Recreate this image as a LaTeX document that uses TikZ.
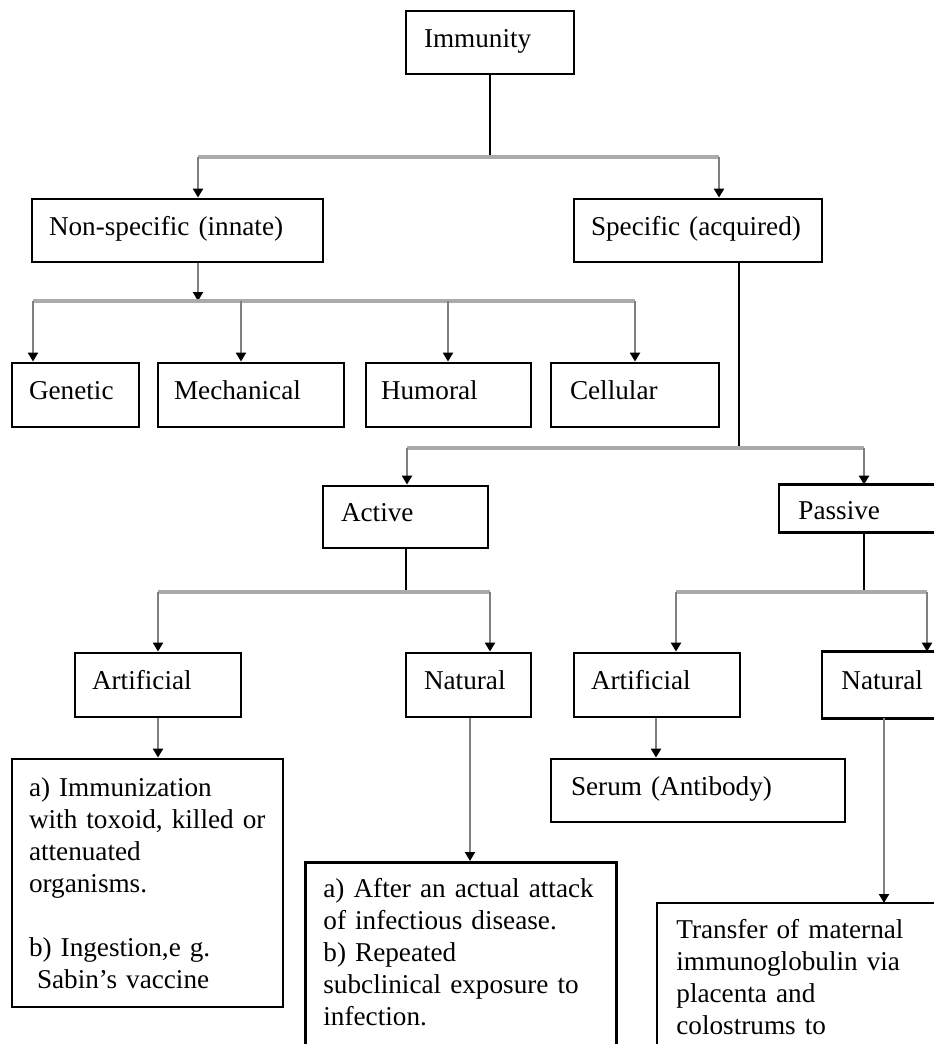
\documentclass[tikz,border=0pt]{standalone}
\usepackage{fontspec}
\setmainfont{Liberation Serif}
\usetikzlibrary{arrows.meta}
\definecolor{bargray}{HTML}{ABABAB}
\definecolor{shaft}{HTML}{808080}
\newcommand\fs{\fontsize{13.6pt}{16pt}\selectfont}
\newcommand\myl[1]{\mbox{#1}}
\begin{document}
\begin{tikzpicture}[x=0.5pt,y=-0.5pt,
 box/.style={draw=black, line width=1.4pt, rectangle, inner sep=0pt, align=left, font=\fs},
 openbox/.style={box, draw=none},
 boxline/.style={draw=black, line width=1.4pt, line join=miter},
 one/.style={text height=9pt, text depth=4.5pt},
 stem/.style={draw=black, line width=1.4pt},
 bar/.style={draw=bargray, line width=2pt},
 arr/.style={draw=shaft, line width=1.1pt, -{Triangle[length=4.5pt,width=5pt,color=black]}},
]
\path[use as bounding box] (0,0) rectangle (934,1044);
\fill[white] (0,0) rectangle (934,1044);
\coordinate (edge) at (934,0);

% boxes
\node[box, one, minimum width=84pt, minimum height=31.5pt, text width=66pt] (imm) at (490,42.5) {Immunity};
\node[box, one, minimum width=145.5pt, minimum height=31.5pt, text width=128.5pt] (ns) at (177.5,230.5) {Non-specific (innate)};
\node[box, one, minimum width=124pt, minimum height=31.5pt, text width=107pt] (sp) at (698,230.5) {Specific (acquired)};

\node[box, one, minimum width=63.5pt, minimum height=32pt, text width=46.5pt] (gen) at (75.5,395) {Genetic};
\node[box, one, minimum width=93pt, minimum height=32pt, text width=77pt] (mech) at (251,395) {Mechanical};
\node[box, one, minimum width=82.5pt, minimum height=32pt, text width=67.5pt] (hum) at (448.5,395) {Humoral};
\node[box, one, minimum width=84pt, minimum height=32pt, text width=65pt] (cel) at (635,395) {Cellular};

\node[box, one, minimum width=82.5pt, minimum height=31pt, text width=64.5pt] (act) at (405.5,517) {Active};
\node[openbox, anchor=west, inner xsep=9pt, text height=10.5pt, text depth=0pt, minimum height=22.5pt, text width=60pt] (pas) at (779,508.5) {Passive};
\draw[boxline] (edge |- pas.north) -- (pas.north west) -- (pas.south west) -- (edge |- pas.south);

\node[box, one, minimum width=83pt, minimum height=32pt, text width=66pt] (aart) at (158,685) {Artificial};
\node[box, one, minimum width=62.5pt, minimum height=32pt, text width=44.5pt] (anat) at (468.5,685) {Natural};
\node[box, one, minimum width=83pt, minimum height=32pt, text width=66pt] (part) at (657,685) {Artificial};
\node[openbox, one, anchor=west, inner xsep=9pt, minimum height=32pt, text width=40pt] (pnat) at (822,685) {Natural};
\draw[boxline] (edge |- pnat.north) -- (pnat.north west) -- (pnat.south west) -- (edge |- pnat.south);

\node[box, minimum width=135.5pt, minimum height=124pt, text width=118.5pt] (imz) at (147.5,883)
 {\myl{a) Immunization}\\ \myl{with toxoid, killed or}\\ \myl{attenuated}\\ \myl{organisms.}\\[16pt]
  \myl{b) Ingestion,e g.}\\ \myl{\hspace{4pt}Sabin’s vaccine}};
\node[box, one, minimum width=147pt, minimum height=31.5pt, text width=127pt] (serum) at (698,790.5) {Serum (Antibody)};

\node[box, anchor=north west, inner xsep=9pt, inner ysep=8pt, text width=137.5pt] (nbox) at (304,861)
 {\myl{a) After an actual attack}\\ \myl{of infectious disease.}\\ \myl{b) Repeated}\\ \myl{subclinical exposure to}\\ \myl{infection.}\\[80pt]\mbox{}};
\node[openbox, anchor=north west, inner xsep=9pt, inner ysep=7.5pt, text width=120pt] (tbox) at (657,903)
 {\myl{Transfer of maternal}\\ \myl{immunoglobulin via}\\ \myl{placenta and}\\ \myl{colostrums to}\\[80pt]\mbox{}};
\draw[boxline] (edge |- tbox.north) -- (tbox.north west) -- (tbox.south west);

% junction coordinates
\coordinate (j1) at (490,157);
\coordinate (j1l) at (198,157);
\coordinate (j1r) at (719,157);
\coordinate (j2m) at (198,301);
\coordinate (j2a) at (33,301);
\coordinate (j2b) at (241,301);
\coordinate (j2c) at (448,301);
\coordinate (j2d) at (635,301);
\coordinate (j3) at (739,448);
\coordinate (j3l) at (407,448);
\coordinate (j3r) at (864,448);
\coordinate (j4) at (406,592);
\coordinate (j4l) at (158,592);
\coordinate (j4r) at (490,592);
\coordinate (j5) at (864,592);
\coordinate (j5l) at (676,592);
\coordinate (j5r) at (927,592);
\coordinate (k1) at (158,717);
\coordinate (k2) at (470,717);
\coordinate (k3) at (656,717);
\coordinate (k4) at (884,717);

% immunity level
\draw[stem] (imm.south) -- (j1);
\draw[bar] (j1l) -- (j1r);
\draw[arr] (j1l) -- (j1l |- ns.north);
\draw[arr] (j1r) -- (j1r |- sp.north);

% non-specific level
\draw[arr] (j2m |- ns.south) -- (j2m);
\draw[bar] (j2a) -- (j2d);
\draw[arr] (j2a) -- (j2a |- gen.north);
\draw[arr] (j2b) -- (j2b |- mech.north);
\draw[arr] (j2c) -- (j2c |- hum.north);
\draw[arr] (j2d) -- (j2d |- cel.north);

% specific level
\draw[stem] (j3 |- sp.south) -- (j3);
\draw[bar] (j3l) -- (j3r);
\draw[arr] (j3l) -- (j3l |- act.north);
\draw[arr] (j3r) -- (j3r |- pas.north);

% active
\draw[stem] (j4 |- act.south) -- (j4);
\draw[bar] (j4l) -- (j4r);
\draw[arr] (j4l) -- (j4l |- aart.north);
\draw[arr] (j4r) -- (j4r |- anat.north);

% passive
\draw[stem] (j5 |- pas.south) -- (j5);
\draw[bar] (j5l) -- (j5r);
\draw[arr] (j5l) -- (j5l |- part.north);
\draw[arr] (j5r) -- (j5r |- pnat.north);

% leaves
\draw[arr] (k1 |- aart.south) -- (k1 |- imz.north);
\draw[arr] (k2 |- anat.south) -- (k2 |- nbox.north);
\draw[arr] (k3 |- part.south) -- (k3 |- serum.north);
\draw[arr] (k4 |- pnat.south) -- (k4 |- tbox.north);
\end{tikzpicture}
\end{document}
